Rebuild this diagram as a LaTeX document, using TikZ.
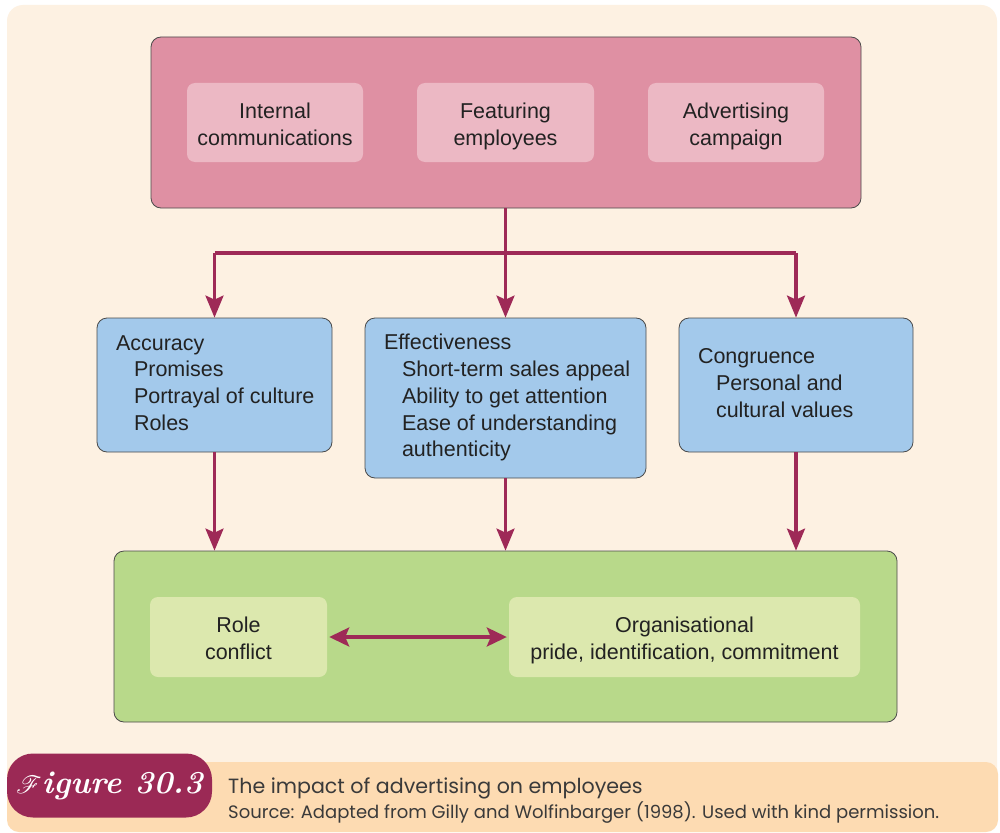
\documentclass[tikz,border=0pt]{standalone}
\usepackage{fontspec}
\setmainfont{Liberation Sans}
\newfontfamily\capfont{Poppins}
\newfontfamily\figfont{Latin Modern Roman}
\usepackage{mathrsfs}
\usetikzlibrary{arrows.meta}
\definecolor{cream}{HTML}{FDF1E2}
\definecolor{capbg}{HTML}{FDDBB2}
\definecolor{badge}{HTML}{9B2955}
\definecolor{pinkbig}{HTML}{DF90A3}
\definecolor{pinkin}{HTML}{ECB8C4}
\definecolor{bluefill}{HTML}{A3C9EB}
\definecolor{greenbig}{HTML}{B8D98A}
\definecolor{greenin}{HTML}{DCE8AE}
\definecolor{arrowc}{HTML}{9E2A57}
\definecolor{bordergray}{HTML}{4A4A4A}
\definecolor{txt}{HTML}{222222}
\definecolor{captxt}{HTML}{3A3A3A}
\newcommand{\mainsz}{\fontsize{21.5}{26.7}\selectfont}
\tikzset{
  outerbox/.style={draw=bordergray, line width=0.8pt, rounded corners=10pt},
  innerbox/.style={rounded corners=8pt, align=center, font=\mainsz, text=txt, inner sep=0pt},
  bluebox/.style={outerbox, fill=bluefill, font=\mainsz, text=txt, inner xsep=0pt, inner ysep=0pt},
  arr/.style={draw=arrowc, line width=3.2pt, -{Stealth[length=22pt,width=18pt,inset=4pt]}},
  plainline/.style={draw=arrowc, line width=3.2pt},
  dblarr/.style={draw=arrowc, line width=3.2pt, {Stealth[length=20pt,width=19pt,inset=4pt]}-{Stealth[length=20pt,width=19pt,inset=4pt]}}
}
\newcommand{\ind}{\hspace*{18pt}}
\newcommand{\blocktext}[2]{\makebox[#1][l]{\begin{tabular}{@{}l@{}}#2\end{tabular}}}
\newcommand{\ctext}[1]{\raisebox{-4pt}[\height][\depth]{\begin{tabular}{@{}c@{}}#1\end{tabular}}}
\begin{document}
\begin{tikzpicture}[x=1pt,y=-1pt]
\useasboundingbox (0,0) rectangle (1000,832);
\fill[white] (0,0) rectangle (1000,832);
\fill[cream, rounded corners=16pt] (7,5) rectangle (997,832);
\fill[capbg, rounded corners=12pt] (7,762) rectangle (998,832);

% top
\node[outerbox, fill=pinkbig, minimum width=710pt, minimum height=171pt] (pink) at (506,122.5) {};
\node[innerbox, fill=pinkin, minimum width=176pt, minimum height=79pt] (ic) at (275,122.5) {\ctext{Internal\\communications}};
\node[innerbox, fill=pinkin, minimum width=177pt, minimum height=79pt] (fe) at (505.5,122.5) {\ctext{Featuring\\employees}};
\node[innerbox, fill=pinkin, minimum width=176pt, minimum height=79pt] (ac) at (736,122.5) {\ctext{Advertising\\campaign}};

% middle
\node[bluebox, minimum width=235pt, minimum height=134pt] (acc) at (214.5,385)
  {\blocktext{197pt}{Accuracy\\\ind Promises\\\ind Portrayal of culture\\\ind Roles}};
\node[bluebox, minimum width=281pt, minimum height=160pt] (eff) at (505.5,398)
  {\blocktext{243pt}{Effectiveness\\\ind Short-term sales appeal\\\ind Ability to get attention\\\ind Ease of understanding\\\ind authenticity}};
\node[bluebox, minimum width=234pt, minimum height=134pt] (con) at (796,385)
  {\blocktext{196pt}{Congruence\\\ind Personal and\\\ind cultural values}};

% bottom
\node[outerbox, fill=greenbig, minimum width=783pt, minimum height=171pt] (green) at (505.5,636.5) {};
\node[innerbox, fill=greenin, minimum width=177pt, minimum height=80pt] (role) at (238.5,637) {\ctext{Role\\conflict}};
\node[innerbox, fill=greenin, minimum width=351pt, minimum height=80pt] (org) at (684.5,637) {\ctext{Organisational\\pride, identification, commitment}};

% connectors
\coordinate (j) at (505.5,253);
\draw[arr] (pink.south -| eff.north) -- (eff.north);
\draw[plainline] (j -| acc.north) -- (j -| con.north);
\draw[arr] (j -| acc.north) -- (acc.north);
\draw[arr] (j -| con.north) -- (con.north);
\draw[arr] (acc.south) -- (acc.south |- green.north);
\draw[arr] (eff.south) -- (eff.south |- green.north);
\draw[arr] (con.south) -- (con.south |- green.north);
\draw[dblarr, shorten <=2pt, shorten >=2pt] (role.east) -- (org.west);

% caption
\node[fill=badge, rounded corners=26pt, minimum width=205pt, minimum height=64pt, inner sep=0pt] (badge) at (109.5,785.5) {};
\node[text=white, font=\figfont\bfseries\itshape\fontsize{32}{36}\selectfont, anchor=center] (figlabel) at (badge.center) {$\mathscr{F}$igure 30.3};
\node[anchor=base west, inner sep=0pt, font=\capfont\fontsize{20.6}{24}\selectfont, text=captxt] (cap1) at (228,793) {The impact of advertising on employees};
\node[anchor=base west, inner sep=0pt, font=\capfont\fontsize{18}{22}\selectfont, text=captxt] (cap2) at (228,818) {Source: Adapted from Gilly and Wolfinbarger (1998). Used with kind permission.};
\end{tikzpicture}
\end{document}
